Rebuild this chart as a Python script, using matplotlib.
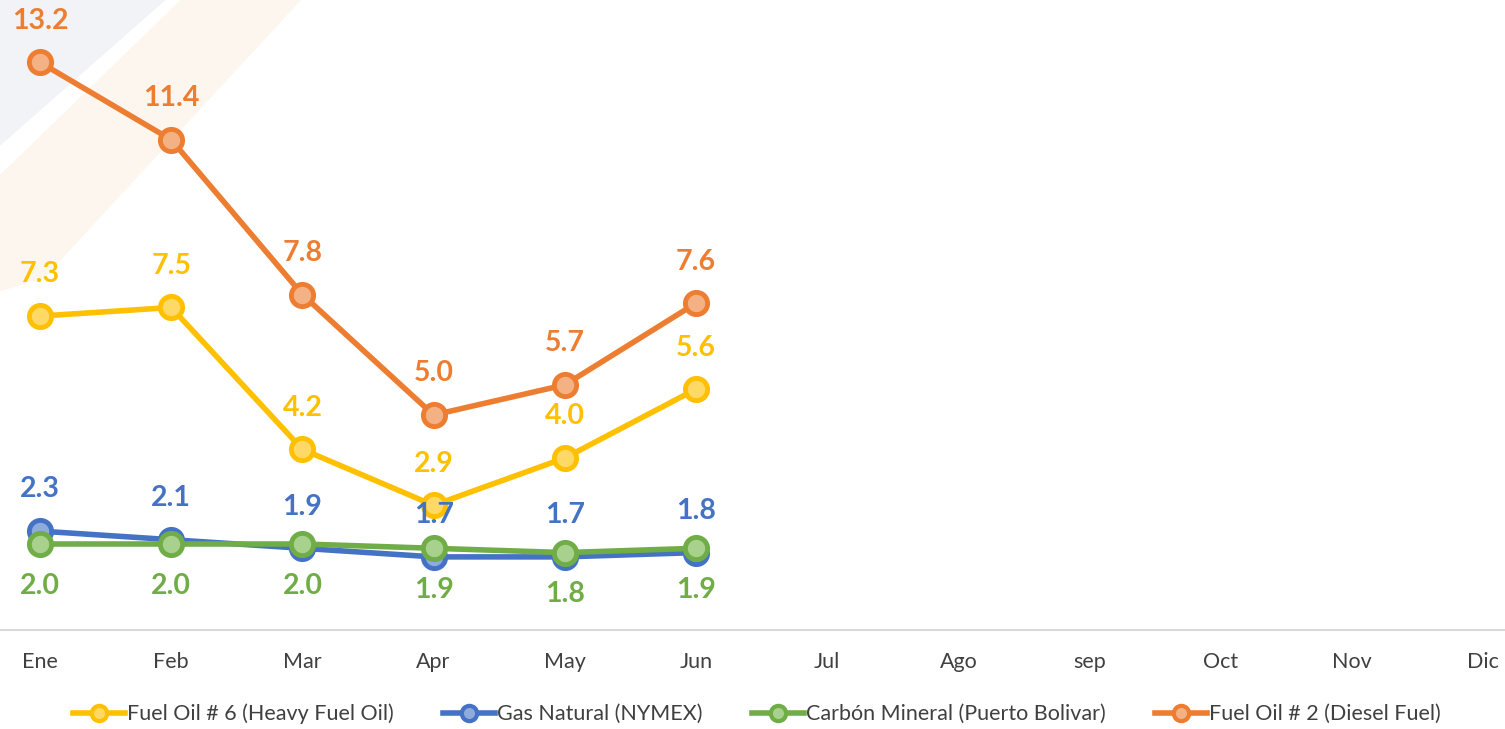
import matplotlib.pyplot as plt
from matplotlib.lines import Line2D
from matplotlib.patches import Polygon

# ---------------- Data ---------------- #
months = ["Ene", "Feb", "Mar", "Apr", "May", "Jun", "Jul", "Ago", "sep", "Oct", "Nov", "Dic"]
fuel_oil_6 = [7.3, 7.5, 4.2, 2.9, 4.0, 5.6]
gas_natural = [2.3, 2.1, 1.9, 1.7, 1.7, 1.8]
carbon_mineral = [2.0, 2.0, 2.0, 1.9, 1.8, 1.9]
fuel_oil_2 = [13.2, 11.4, 7.8, 5.0, 5.7, 7.6]

series = [
    ("Fuel Oil # 6 (Heavy Fuel Oil)", fuel_oil_6, "#FFC000", "#FFD966", 1),
    ("Gas Natural (NYMEX)", gas_natural, "#4472C4", "#8FAADC", 1),
    ("Carbón Mineral (Puerto Bolivar)", carbon_mineral, "#70AD47", "#A9D18E", -1),
    ("Fuel Oil # 2 (Diesel Fuel)", fuel_oil_2, "#ED7D31", "#F4B183", 1),
]

plt.rcParams['font.family'] = ['Lato', 'DejaVu Sans']

fig = plt.figure(figsize=(15.05, 7.29), dpi=100)

# faint watermark in the top-left corner (background axes)
bg = fig.add_axes([0, 0, 1, 1], zorder=-1)
bg.set_xlim(0, 1)
bg.set_ylim(0, 1)
bg.axis("off")
bg.add_patch(Polygon([(0, 1), (0.11, 1), (0, 0.8)], closed=True, fc="#e9ecf1", ec="none", alpha=0.6))
bg.add_patch(Polygon([(0.12, 1), (0.2, 1), (0.03, 0.62), (0, 0.6), (0, 0.76)], closed=True,
                     fc="#fbe6d2", ec="none", alpha=0.35))

ax = fig.add_axes([0, 1 - 630 / 729, 1, 630 / 729])
ax.set_facecolor("none")

x_all = list(range(len(months)))
handles = []
for name, vals, col, face, side in series:
    xs = x_all[:len(vals)]
    ax.plot(xs, vals, color=col, lw=4, marker="o", ms=16,
            mfc=face, mec=col, mew=3.5, solid_capstyle="round", zorder=3)
    for x, v in zip(xs, vals):
        ax.annotate(f"{v:.1f}", (x, v), xytext=(0, 30 * side), textcoords="offset points",
                    ha="center", va="center", fontsize=20.5, fontweight="bold", color=col,
                    zorder=5)
    handles.append(Line2D([], [], color=col, lw=4, marker="o", ms=11,
                          mfc=face, mec=col, mew=3, label=name))

ax.set_xlim(-0.305, 11.166)
ax.set_ylim(0, 14.65)
ax.set_xticks(x_all)
ax.set_xticklabels(months)
ax.tick_params(axis="x", length=0, pad=16, labelsize=15.5, labelcolor="#404040")
ax.set_yticks([])
for s in ["left", "right", "top"]:
    ax.spines[s].set_visible(False)
ax.spines["bottom"].set_color("#d9d9d9")
ax.spines["bottom"].set_linewidth(1.5)

fig.legend(handles=handles, loc="center", bbox_to_anchor=(0.503, 1 - 714 / 729),
           ncol=4, frameon=False, fontsize=15.5, handlelength=2.4, handletextpad=0.1,
           columnspacing=2.3, labelcolor="#404040")

fig.savefig("out.png", dpi=100)
